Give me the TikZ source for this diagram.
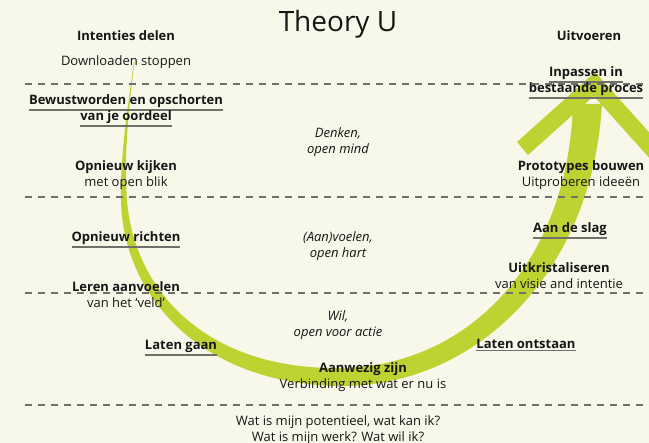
\documentclass[tikz,border=0pt]{standalone}
\usepackage{fontspec}
\setmainfont{Open Sans}
\definecolor{cream}{RGB}{248,248,234}
\definecolor{ugreen}{RGB}{190,211,50}
\definecolor{dashgray}{RGB}{112,112,106}
\definecolor{ink}{RGB}{22,22,22}
\newcommand{\undl}[1]{\leavevmode\vtop{\hbox{#1}\kern1.4pt{\color{dashgray}\hrule height 1.4pt}}}

\begin{document}
\begin{tikzpicture}[
    x=1pt, y=-1pt,
    txt/.style={font=\fontsize{13}{16}\selectfont, text=ink, align=center, inner sep=0pt},
    stage/.style={txt, font=\fontsize{13}{16}\selectfont\bfseries},
    mood/.style={txt, font=\fontsize{13}{16}\selectfont\itshape},
    dashline/.style={draw=dashgray, line width=1.3pt, dash pattern=on 7pt off 6pt}]

    \fill[cream] (0,0) rectangle (649,443);
    \useasboundingbox (0,0) rectangle (649,443);
    \clip (0,0) rectangle (649,443);

    % the U
    \fill[ugreen] (134,62) .. controls (127,110) and (120,160) .. (121,200)
        .. controls (122.4,292) and (196.6,384.2) .. (340,386)
        .. controls (474,387.2) and (592,275) .. (602,104)
        -- (573,104)
        .. controls (568,265) and (466,366.8) .. (340,368)
        .. controls (203.4,369.8) and (133.6,288) .. (127,200)
        .. controls (124,160) and (128,110) .. (134.6,62) -- cycle;
    \fill[ugreen] (595,72) -- (665,150) -- (652,161) -- (593.7,96) -- (528,155) -- (517,142) -- cycle;

    \foreach \y in {84,197,293,405}
        \draw[dashline] (25,\y) -- (645,\y);

    \node[txt, font=\fontsize{28}{30}\selectfont] (title) at (338,24) {Theory U};

    % left column
    \node[stage] (intenties) at (126,36) {Intenties delen};
    \node[txt] (download) at (126,62) {Downloaden stoppen};
    \node[stage] (bewust) at (126,111) {\undl{Bewustworden en opschorten}\\\undl{van je oordeel}};
    \node[txt] (kijken) at (126,175) {\textbf{Opnieuw kijken}\\met open blik};
    \node[stage] (richten) at (126,240) {\undl{Opnieuw richten}};
    \node[txt] (aanvoelen) at (126,295) {\textbf{Leren aanvoelen}\\van het ‘veld’};
    \node[stage] (latengaan) at (181,348) {\undl{Laten gaan}};

    % middle
    \node[mood] (denken) at (338,142) {Denken,\\open mind};
    \node[mood] (voelen) at (338,246) {(Aan)voelen,\\open hart};
    \node[mood] (wil) at (338,325) {Wil,\\open voor actie};
    \node[txt] (aanwezig) at (363,377) {\textbf{Aanwezig zijn}\\Verbinding met wat er nu is};
    \node[txt] (vragen) at (338,430) {Wat is mijn potentieel, wat kan ik?\\Wat is mijn werk? Wat wil ik?};

    % right column
    \node[stage] (uitvoeren) at (589,36) {Uitvoeren};
    \node[stage] (inpassen) at (586,83) {\undl{Inpassen in}\\\undl{bestaande proces}};
    \node[txt] (prototypes) at (581,175) {\textbf{Prototypes bouwen}\\Uitproberen ideeën};
    \node[stage] (slag) at (570,231) {\undl{Aan de slag}};
    \node[txt] (kristal) at (559,276) {\textbf{Uitkristaliseren}\\van visie and intentie};
    \node[stage] (ontstaan) at (526,345) {\undl{Laten ontstaan}};

\end{tikzpicture}
\end{document}
